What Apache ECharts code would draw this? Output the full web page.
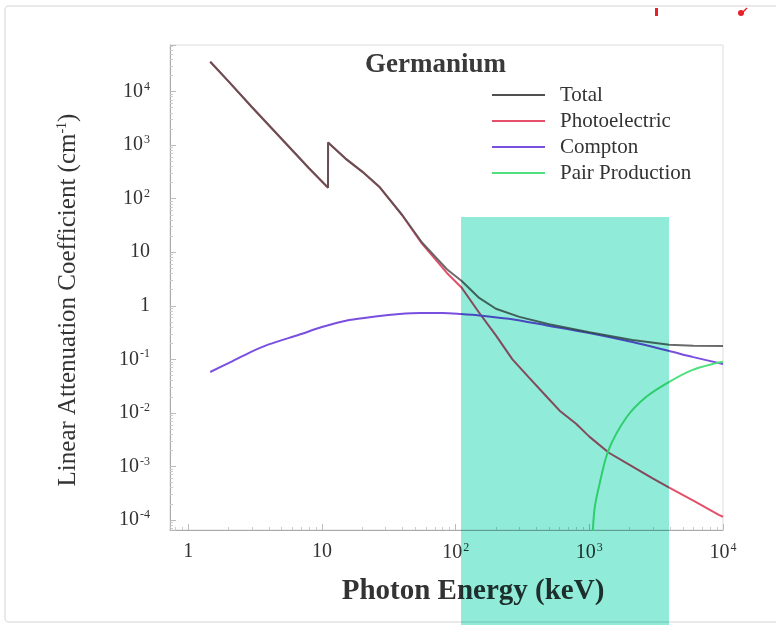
<!DOCTYPE html>
<html>
<head>
<meta charset="utf-8">
<script src="https://cdn.jsdelivr.net/npm/echarts@6/dist/echarts.min.js"></script>
<style>html,body{margin:0;padding:0;background:#fff;}#c{width:776px;height:625px;}</style>
</head>
<body>
<div id="c"></div>
<script>
// ---- data (energy in keV, attenuation in cm^-1) ----
const seriesNames = ['Total', 'Photoelectric', 'Compton', 'Pair Production'];

const totalE = [1.46, 2, 3, 5, 8, 11.1, 11.11, 15, 20, 27, 40, 56, 86, 111, 150, 200, 300, 500, 1000, 2100, 3960, 6000, 10000];
const totalMu = [36000, 15500, 5100, 1300, 370, 160.5, 1120, 560, 320, 165, 49, 15.2, 4.8, 2.9, 1.4, 0.88, 0.62, 0.45, 0.32, 0.23, 0.187, 0.18, 0.178];

const photoE = [1.46, 2, 3, 5, 8, 11.1, 11.11, 15, 20, 27, 40, 56, 86, 111, 150, 200, 266, 350, 480, 600, 800, 1000, 1400, 2000, 3000, 3960, 6000, 9300, 10000];
const photoMu = [36000, 15500, 5100, 1300, 370, 160, 1120, 560, 320, 164, 48, 14.5, 4.1, 2.17, 0.74, 0.28, 0.1, 0.047, 0.02, 0.011, 0.0062, 0.0036, 0.0018, 0.00107, 0.00059, 0.0004, 0.00023, 0.000125, 0.000115];

const comptonE = [1.46, 2, 2.9, 4, 6.8, 10, 16, 25, 38, 55, 80, 110, 150, 250, 480, 1000, 2100, 3960, 6000, 10000];
const comptonMu = [0.058, 0.085, 0.135, 0.19, 0.29, 0.4, 0.54, 0.63, 0.7, 0.73, 0.73, 0.7, 0.66, 0.57, 0.43, 0.31, 0.21, 0.143, 0.11, 0.082];

const pairE = [1022, 1090, 1180, 1390, 1900, 2670, 3960, 5870, 8900, 10000];
const pairMu = [0.00001, 0.00015, 0.00042, 0.002, 0.0083, 0.02, 0.038, 0.063, 0.085, 0.09];

const xTickLabels = {0: '1', 1: '10', 2: '10{s|2}', 3: '10{s|3}', 4: '10{s|4}'};
const yTickLabels = {4: '10{s|4}', 3: '10{s|3}', 2: '10{s|2}', 1: '10', 0: '1', '-1': '10{s|-1}', '-2': '10{s|-2}', '-3': '10{s|-3}', '-4': '10{s|-4}'};

const colors = ['#505050', '#e4506a', '#7a4fe0', '#4fe07e'];

function pairs(xs, ys) { return xs.map((x, i) => [x, ys[i]]); }
function fmt(table) {
  return function (v) {
    const l = Math.log10(v);
    const r = Math.round(l);
    if (Math.abs(l - r) > 1e-6) return '';
    return table[r] !== undefined ? table[r] : '';
  };
}

const serif = "'Liberation Serif', 'DejaVu Serif', serif";
const labelRich = { s: { fontSize: 12, fontFamily: serif, color: '#333', verticalAlign: 'top', padding: [0, 0, 10, 1] } };

const chart = echarts.init(document.getElementById('c'), null, { renderer: 'canvas' });
chart.setOption({
  backgroundColor: '#fff',
  animation: false,
  color: colors,
  title: {
    text: 'Germanium', left: 360, top: 47,
    textStyle: { fontFamily: serif, fontSize: 27, fontWeight: 'bold', color: '#3a3a3a' }
  },
  legend: {
    orient: 'vertical', left: 487, top: 79, itemWidth: 53, itemHeight: 2, itemGap: 4,
    icon: 'rect',
    textStyle: { fontFamily: serif, fontSize: 21, color: '#333', lineHeight: 22, padding: [0, 0, 0, 10] },
    data: seriesNames
  },
  grid: { left: 170, right: 53, top: 45, bottom: 95, show: true, borderColor: '#dcdcdc', borderWidth: 1 },
  xAxis: {
    type: 'log', logBase: 10, min: 0.73, max: 10000, splitNumber: 5,
    axisLine: { lineStyle: { color: '#aaa' } },
    axisTick: { inside: true, length: 6, lineStyle: { color: '#bbb' } },
    minorTick: { show: true, splitNumber: 9, length: 3, lineStyle: { color: '#ccc' } },
    splitLine: { show: false },
    axisLabel: { formatter: fmt(xTickLabels), fontFamily: serif, fontSize: 20, color: '#333', margin: 12, rich: labelRich, showMinLabel: true, showMaxLabel: true, hideOverlap: false }
  },
  yAxis: {
    type: 'log', logBase: 10, min: 0.000065, max: 74000, splitNumber: 9,
    axisLine: { show: true, lineStyle: { color: '#aaa' } },
    axisTick: { show: true, inside: true, length: 6, lineStyle: { color: '#bbb' } },
    minorTick: { show: true, splitNumber: 9, length: 3, lineStyle: { color: '#ccc' } },
    splitLine: { show: false },
    axisLabel: { formatter: fmt(yTickLabels), fontFamily: serif, fontSize: 20, color: '#333', margin: 20, rich: labelRich, hideOverlap: false }
  },
  series: [
    { name: 'Photoelectric', type: 'line', data: pairs(photoE, photoMu), showSymbol: false, lineStyle: { width: 2, color: colors[1] }, itemStyle: { color: colors[1] }, z: 2 },
    { name: 'Compton', type: 'line', data: pairs(comptonE, comptonMu), smooth: 0.3, showSymbol: false, lineStyle: { width: 2, color: colors[2] }, itemStyle: { color: colors[2] }, z: 2 },
    { name: 'Pair Production', type: 'line', data: pairs(pairE, pairMu), smooth: 0.3, showSymbol: false, lineStyle: { width: 2, color: colors[3] }, itemStyle: { color: colors[3] }, z: 2 },
    { name: 'Total', type: 'line', data: pairs(totalE, totalMu), showSymbol: false, lineStyle: { width: 2, color: colors[0], opacity: 0.85 }, itemStyle: { color: colors[0] }, z: 3 }
  ],
  graphic: [
    { type: 'rect', silent: true, z: -1, shape: { x: 5, y: 6, width: 800, height: 616, r: 4 }, style: { fill: 'none', stroke: '#e2e2e2', lineWidth: 1.5 } },
    { type: 'text', silent: true, x: 68, y: 300, rotation: Math.PI / 2,
      style: { text: 'Linear Attenuation Coefficient (cm{s|-1})', fontFamily: serif, fontSize: 25, fill: '#333', align: 'center', verticalAlign: 'middle',
        rich: { s: { fontSize: 14, fontFamily: serif, fill: '#333', verticalAlign: 'top', padding: [0, 0, 12, 0] } } } },
    { type: 'text', silent: true, x: 473, y: 592,
      style: { text: 'Photon Energy (keV)', fontFamily: serif, fontSize: 29, fontWeight: 'bold', fill: '#333', align: 'center', verticalAlign: 'middle' } },
    { type: 'rect', silent: true, z: 50, shape: { x: 655, y: 8, width: 3, height: 8 }, style: { fill: '#e8202a' } },
    { type: 'circle', silent: true, z: 50, shape: { cx: 741, cy: 13, r: 3 }, style: { fill: '#e8202a' } },
    { type: 'line', silent: true, z: 50, shape: { x1: 742, y1: 13, x2: 747, y2: 8 }, style: { stroke: '#e8202a', lineWidth: 1.5 } },
    { type: 'rect', silent: true, z: 100, shape: { x: 461, y: 217, width: 208, height: 408 }, style: { fill: '#91ebd9', blend: 'multiply' } }
  ]
});
</script>
</body>
</html>
